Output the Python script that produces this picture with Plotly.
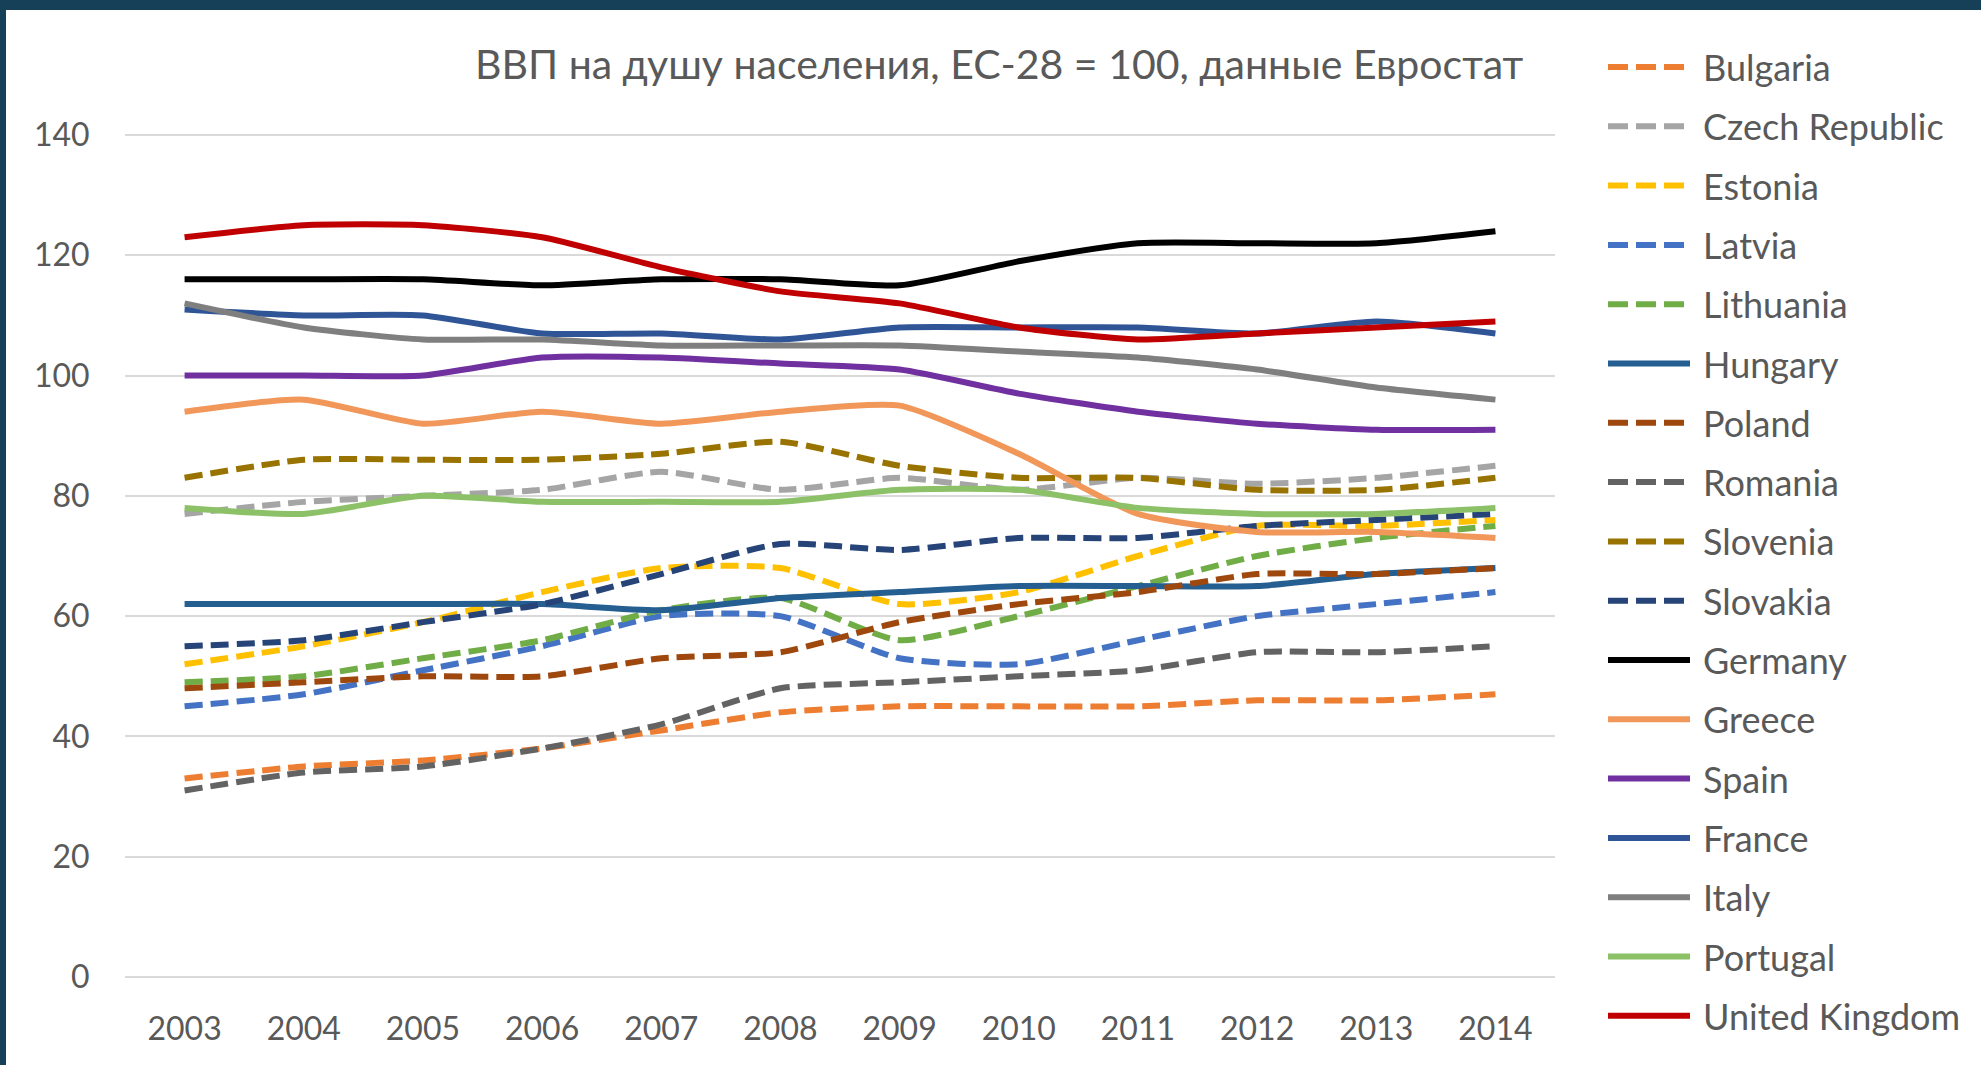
import plotly.graph_objects as go

years = [2003, 2004, 2005, 2006, 2007, 2008, 2009, 2010, 2011, 2012, 2013, 2014]

bulgaria = [33, 35, 36, 38, 41, 44, 45, 45, 45, 46, 46, 47]
czech = [77, 79, 80, 81, 84, 81, 83, 81, 83, 82, 83, 85]
estonia = [52, 55, 59, 64, 68, 68, 62, 64, 70, 75, 75, 76]
latvia = [45, 47, 51, 55, 60, 60, 53, 52, 56, 60, 62, 64]
lithuania = [49, 50, 53, 56, 61, 63, 56, 60, 65, 70, 73, 75]
hungary = [62, 62, 62, 62, 61, 63, 64, 65, 65, 65, 67, 68]
poland = [48, 49, 50, 50, 53, 54, 59, 62, 64, 67, 67, 68]
romania = [31, 34, 35, 38, 42, 48, 49, 50, 51, 54, 54, 55]
slovenia = [83, 86, 86, 86, 87, 89, 85, 83, 83, 81, 81, 83]
slovakia = [55, 56, 59, 62, 67, 72, 71, 73, 73, 75, 76, 77]
germany = [116, 116, 116, 115, 116, 116, 115, 119, 122, 122, 122, 124]
greece = [94, 96, 92, 94, 92, 94, 95, 87, 77, 74, 74, 73]
spain = [100, 100, 100, 103, 103, 102, 101, 97, 94, 92, 91, 91]
france = [111, 110, 110, 107, 107, 106, 108, 108, 108, 107, 109, 107]
italy = [112, 108, 106, 106, 105, 105, 105, 104, 103, 101, 98, 96]
portugal = [78, 77, 80, 79, 79, 79, 81, 81, 78, 77, 77, 78]
uk = [123, 125, 125, 123, 118, 114, 112, 108, 106, 107, 108, 109]

names = ["Bulgaria", "Czech Republic", "Estonia", "Latvia", "Lithuania", "Hungary",
         "Poland", "Romania", "Slovenia", "Slovakia", "Germany", "Greece", "Spain",
         "France", "Italy", "Portugal", "United Kingdom"]
values = [bulgaria, czech, estonia, latvia, lithuania, hungary, poland, romania,
          slovenia, slovakia, germany, greece, spain, france, italy, portugal, uk]
colors = ["#ED7D31", "#A5A5A5", "#FFC000", "#4472C4", "#70AD47", "#255E91",
          "#9E480E", "#636363", "#997300", "#264478", "#000000", "#F1975A",
          "#7030A0", "#2F5597", "#7F7F7F", "#8CC168", "#C00000"]
dashed = [True, True, True, True, True, False, True, True, True, True,
          False, False, False, False, False, False, False]

title_text = "ВВП на душу населения, ЕС-28 = 100, данные Евростат"
y_ticks = [0, 20, 40, 60, 80, 100, 120, 140]

W, H = 1981, 1065
ML, MR, MT, MB = 125, 426, 132, 85
PW, PH = W - ML - MR, H - MT - MB


def px2x(px):
    return (px - ML) / PW


def py2y(py):
    return (H - MB - py) / PH


TXT = "#595959"
BORDER = "#163F58"
FONT = "Lato, 'Open Sans', sans-serif"

fig = go.Figure()
for n, v, c, d in zip(names, values, colors, dashed):
    fig.add_trace(go.Scatter(
        x=years, y=v, name=n, mode="lines", showlegend=False,
        line=dict(color=c, width=6, dash="18px,8px" if d else "solid",
                  shape="spline", smoothing=0.6),
    ))

shapes = [dict(type="rect", xref="paper", yref="paper", layer="below",
               x0=px2x(6), x1=px2x(W + 20), y0=py2y(H + 20), y1=py2y(10),
               fillcolor="white", line=dict(width=0))]
annotations = [dict(text=title_text, xref="paper", yref="paper",
                    x=px2x(1526), y=py2y(63), xanchor="right", yanchor="middle",
                    showarrow=False, font=dict(family=FONT, size=41, color=TXT))]

for i, (n, c, d) in enumerate(zip(names, colors, dashed)):
    yc = 67 + i * 59.3
    shapes.append(dict(type="line", xref="paper", yref="paper",
                       x0=px2x(1608), x1=px2x(1690), y0=py2y(yc), y1=py2y(yc),
                       line=dict(color=c, width=6, dash="20px,8px" if d else "solid")))
    annotations.append(dict(text=n, xref="paper", yref="paper",
                            x=px2x(1701), y=py2y(yc), xanchor="left", yanchor="middle",
                            showarrow=False, font=dict(family=FONT, size=36, color=TXT)))

fig.update_layout(
    width=W, height=H,
    margin=dict(l=ML, r=MR, t=MT, b=MB, pad=0),
    paper_bgcolor=BORDER,
    plot_bgcolor="rgba(0,0,0,0)",
    font=dict(family=FONT, color=TXT),
    shapes=shapes,
    annotations=annotations,
    xaxis=dict(range=[2002.5, 2014.5], tickvals=years, ticktext=[str(y) for y in years],
               showgrid=False, zeroline=False, showline=False,
               ticks="outside", ticklen=21, tickcolor="rgba(0,0,0,0)",
               tickfont=dict(family=FONT, size=32, color=TXT)),
    yaxis=dict(range=[-0.5, 140.5], tickvals=y_ticks,
               showgrid=True, gridcolor="#D9D9D9", gridwidth=2,
               zeroline=False, showline=False,
               ticks="outside", ticklen=28, tickcolor="rgba(0,0,0,0)",
               tickfont=dict(family=FONT, size=32, color=TXT)),
)

fig.write_html(
    "out.html",
    config={"displayModeBar": False},
    post_script="document.body.style.margin='0';document.body.style.overflow='hidden';"
                "document.body.style.background='#163F58';",
)
